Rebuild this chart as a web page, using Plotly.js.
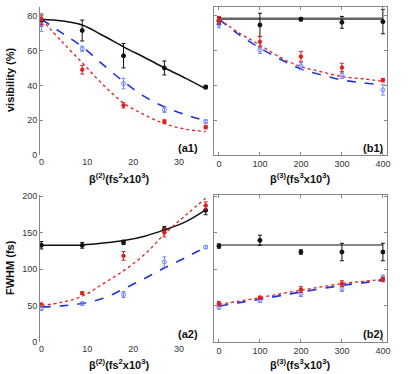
<!DOCTYPE html>
<html>
<head>
<meta charset="utf-8">
<script src="https://cdn.plot.ly/plotly-3.0.1.min.js"></script>
<style>body{margin:0;background:#fff}#fig{width:411px;height:374px}</style>
</head>
<body>
<div id="fig"></div>
<script>
// measured points, GDD scan (a) and TOD scan (b)
var b2x = [0, 8.9, 17.9, 26.8, 35.8];
var b3x = [0, 100, 200, 300, 400];
var fit2x = [0, 4.5, 9, 13.5, 18, 22.5, 27, 31.5, 35.8];
var fit3x = [0, 50, 100, 150, 200, 250, 300, 350, 400];

// (a1) visibility vs beta2
var a1_black = [77, 71.5, 57, 50, 39];
var a1_black_err = [3, 6, 7, 4, 1];
var a1_blue = [75, 61, 41, 26, 19.2];
var a1_blue_err = [4, 1.5, 3, 1.5, 1];
var a1_red = [78, 49, 28.5, 19.2, 16];
var a1_red_err = [3, 2.5, 1.5, 1, 1];
var a1_black_fit = [78, 77, 74.5, 68.5, 62, 56, 49.8, 44, 38];
var a1_blue_fit = [78, 70, 62, 51.7, 42, 33.5, 27.4, 23, 19.7];
var a1_red_fit = [78, 65, 52.7, 40.2, 29.7, 23, 17.8, 14.8, 13.4];

// (b1) visibility vs beta3
var b1_black = [77, 74.7, 78, 76.2, 76.6];
var b1_black_err = [2, 6.7, 1, 3.4, 7];
var b1_red = [77.6, 65, 56.5, 50.2, 43];
var b1_red_err = [2, 3, 3, 2.5, 1];
var b1_blue = [75, 60.3, 51, 46, 37.4];
var b1_blue_err = [2, 2, 2, 2, 3];
var b1_black_fit = [78.2, 78.2, 78.2, 78.2, 78.2, 78.2, 78.2, 78.2, 78.2];
var b1_red_fit = [78, 70, 63.2, 56, 50.8, 47.8, 45, 43.8, 42.3];
var b1_blue_fit = [78, 69, 61.5, 55, 49.4, 46, 43.1, 41.5, 40.3];

// (a2) FWHM vs beta2
var a2_black = [132.5, 132.5, 136.5, 154.4, 180.4];
var a2_black_err = [5, 4, 3, 4, 6];
var a2_red = [51.2, 67, 118, 150, 187];
var a2_red_err = [2, 2, 6, 6, 5];
var a2_blue = [45.7, 52.6, 65, 109.6, 130];
var a2_blue_err = [2, 2, 4, 7, 2];
var a2_black_fit = [132.5, 132.5, 133, 135.5, 139, 145, 154, 165, 181];
var a2_red_fit = [50, 54.5, 63, 80, 98, 120, 149, 174, 197];
var a2_blue_fit = [48, 49.5, 53, 60, 73, 87, 102, 116, 130];

// (b2) FWHM vs beta3
var b2_black = [131.5, 139.3, 123.3, 123.3, 123.3];
var b2_black_err = [3, 7, 3, 12, 12];
var b2_red = [52.6, 60.8, 71.8, 80, 85.5];
var b2_red_err = [3, 2, 4, 4, 3];
var b2_blue = [48, 57.1, 66.3, 73.1, 87.7];
var b2_blue_err = [3, 3, 4, 4, 4];
var b2_black_fit = [132.9, 132.9, 132.9, 132.9, 132.9, 132.9, 132.9, 132.9, 132.9];
var b2_red_fit = [51.6, 56, 60.8, 66, 70.8, 75.5, 80, 83, 85.9];
var b2_blue_fit = [49, 54, 58.5, 63.5, 68.5, 73, 77.5, 81, 84.5];

var BLACK = '#111111', RED = '#e01f1f', BLUE = '#2233dd', LBLUE = '#6f86ff';

function pts(x, y, err, color, sym, size, xa, ya) {
  return {
    x: x, y: y, xaxis: xa, yaxis: ya, type: 'scatter', mode: 'markers',
    marker: {color: color, symbol: sym, size: size, line: {color: color, width: 1}},
    error_y: {type: 'data', array: err, visible: true, color: color, thickness: 1, width: 2},
    showlegend: false, hoverinfo: 'skip'
  };
}
function fit(x, y, color, dash, w, xa, ya) {
  return {
    x: x, y: y, xaxis: xa, yaxis: ya, type: 'scatter', mode: 'lines',
    line: {color: color, dash: dash, width: w, shape: 'spline'},
    showlegend: false, hoverinfo: 'skip'
  };
}

var data = [
  fit(fit2x, a1_black_fit, BLACK, 'solid', 1.5, 'x', 'y'),
  fit(fit2x, a1_blue_fit, BLUE, 'dash', 1.6, 'x', 'y'),
  fit(fit2x, a1_red_fit, RED, 'dot', 1.3, 'x', 'y'),
  pts(b2x, a1_black, a1_black_err, BLACK, 'circle', 4, 'x', 'y'),
  pts(b2x, a1_blue, a1_blue_err, LBLUE, 'circle-open', 4, 'x', 'y'),
  pts(b2x, a1_red, a1_red_err, RED, 'circle', 3.5, 'x', 'y'),

  fit(fit3x, b1_black_fit, '#666666', 'solid', 2.5, 'x2', 'y2'),
  fit(fit3x, b1_blue_fit, BLUE, 'dash', 1.6, 'x2', 'y2'),
  fit(fit3x, b1_red_fit, RED, 'dot', 1.3, 'x2', 'y2'),
  pts(b3x, b1_black, b1_black_err, BLACK, 'circle', 4, 'x2', 'y2'),
  pts(b3x, b1_blue, b1_blue_err, LBLUE, 'circle-open', 4, 'x2', 'y2'),
  pts(b3x, b1_red, b1_red_err, RED, 'circle', 3.5, 'x2', 'y2'),

  fit(fit2x, a2_black_fit, BLACK, 'solid', 1.5, 'x3', 'y3'),
  fit(fit2x, a2_blue_fit, BLUE, 'dash', 1.6, 'x3', 'y3'),
  fit(fit2x, a2_red_fit, RED, 'dot', 1.3, 'x3', 'y3'),
  pts(b2x, a2_black, a2_black_err, BLACK, 'circle', 4, 'x3', 'y3'),
  pts(b2x, a2_blue, a2_blue_err, LBLUE, 'circle-open', 4, 'x3', 'y3'),
  pts(b2x, a2_red, a2_red_err, RED, 'circle', 3.5, 'x3', 'y3'),

  fit(fit3x, b2_black_fit, BLACK, 'solid', 1.2, 'x4', 'y4'),
  fit(fit3x, b2_blue_fit, BLUE, 'dash', 1.6, 'x4', 'y4'),
  fit(fit3x, b2_red_fit, RED, 'dot', 1.3, 'x4', 'y4'),
  pts(b3x, b2_black, b2_black_err, BLACK, 'circle', 4, 'x4', 'y4'),
  pts(b3x, b2_blue, b2_blue_err, LBLUE, 'circle-open', 4, 'x4', 'y4'),
  pts(b3x, b2_red, b2_red_err, RED, 'circle', 3.5, 'x4', 'y4')
];

var W = 411, H = 374;
var tickfont = {family: 'Liberation Sans, Arial, sans-serif', size: 9, color: '#333'};
var xa = [40 / W, 208 / W], xb = [214 / W, 387 / W];
var y1 = [1 - 155 / H, 1 - 7 / H], y2 = [1 - 342 / H, 1 - 195 / H];

function leftX(anchor, dom) {
  return {domain: dom, anchor: anchor, range: [-0.3, 36.3], tickvals: [0, 10, 20, 30],
    showline: false, showgrid: false, zeroline: false, ticks: '', tickfont: tickfont};
}
function leftY(anchor, dom, rng, tv) {
  return {domain: dom, anchor: anchor, range: rng, tickvals: tv, showline: true,
    linecolor: '#888', linewidth: 1, showgrid: false, zeroline: false,
    ticks: 'inside', ticklen: 3, tickcolor: '#888', tickfont: tickfont};
}
function rightX(anchor, dom) {
  return {domain: dom, anchor: anchor, range: [-12, 410], tickvals: [0, 100, 200, 300, 400],
    showline: true, mirror: 'ticks', linecolor: '#888', linewidth: 1, showgrid: false,
    zeroline: false, ticks: 'inside', ticklen: 3, tickcolor: '#888', tickfont: tickfont};
}
function rightY(anchor, dom, rng, tv) {
  return {domain: dom, anchor: anchor, range: rng, tickvals: tv, showticklabels: false,
    showline: true, mirror: 'ticks', linecolor: '#888', linewidth: 1, showgrid: false,
    zeroline: false, ticks: 'inside', ticklen: 3, tickcolor: '#888'};
}

var tfont = {family: 'Liberation Sans, Arial, sans-serif', size: 11, color: '#111', weight: 'bold'};
var b2lab = '<b>β<sup>(2)</sup>(fs<sup>2</sup>x10<sup>3</sup>)</b>';
var b3lab = '<b>β<sup>(3)</sup>(fs<sup>3</sup>x10<sup>3</sup>)</b>';
function ann(text, x, y, angle) {
  return {text: text, x: x / W, y: 1 - y / H, xref: 'paper', yref: 'paper',
    showarrow: false, textangle: angle || 0, font: tfont, xanchor: 'center', yanchor: 'middle'};
}

var layout = {
  width: W, height: H,
  margin: {l: 0, r: 0, t: 0, b: 0},
  paper_bgcolor: '#fff', plot_bgcolor: '#fff',
  xaxis: leftX('y', xa),
  yaxis: leftY('x', y1, [0, 85], [0, 20, 40, 60, 80]),
  xaxis2: rightX('y2', xb),
  yaxis2: rightY('x2', y1, [0, 85], [20, 40, 60, 80]),
  xaxis3: leftX('y3', xa),
  yaxis3: leftY('x3', y2, [0, 201.4], [0, 50, 100, 150, 200]),
  xaxis4: rightX('y4', xb),
  yaxis4: rightY('x4', y2, [0, 201.4], [50, 100, 150, 200]),
  annotations: [
    ann(b2lab, 120, 178), ann(b3lab, 300, 178),
    ann(b2lab, 120, 364), ann(b3lab, 300, 364),
    ann('<b>visibility (%)</b>', 10, 80, -90),
    ann('<b>FWHM (fs)</b>', 10, 268, -90),
    ann('<b>(a1)</b>', 188, 148), ann('<b>(b1)</b>', 373, 148),
    ann('<b>(a2)</b>', 188, 334), ann('<b>(b2)</b>', 373, 334)
  ]
};

Plotly.newPlot('fig', data, layout, {staticPlot: true});
</script>
</body>
</html>
